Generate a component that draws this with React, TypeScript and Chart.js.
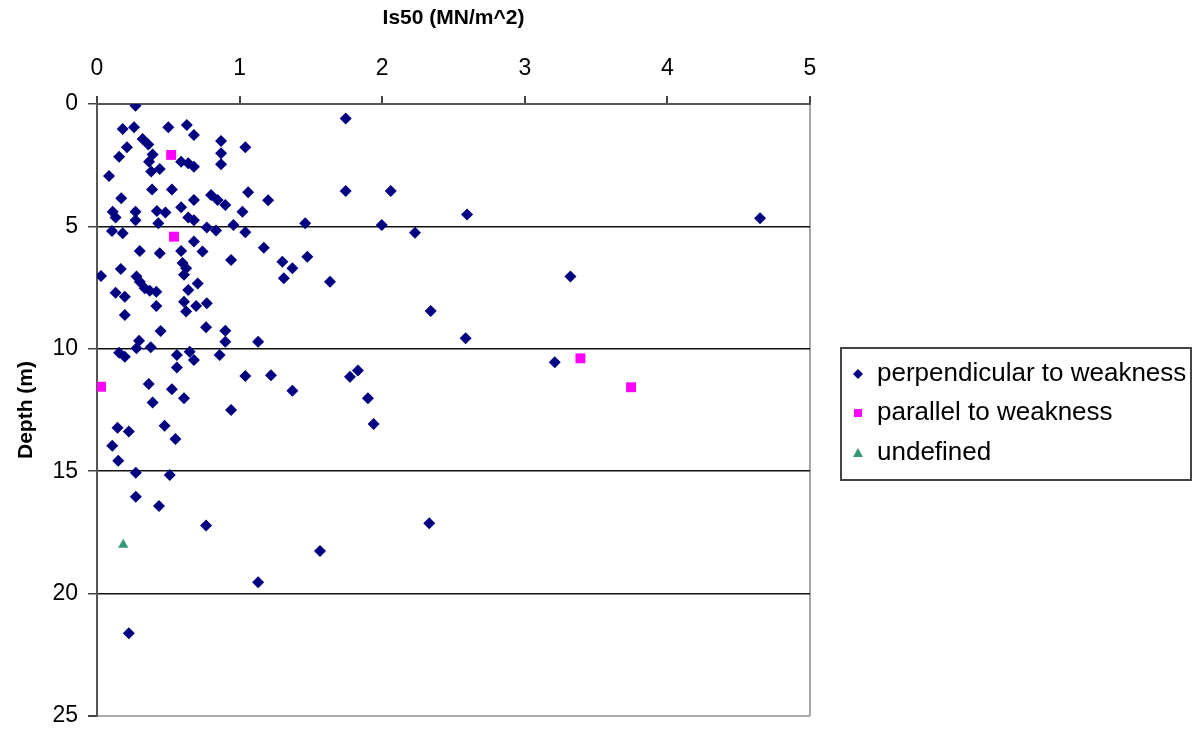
import React, { useEffect, useRef } from 'react';
import { Chart, registerables } from 'chart.js';

Chart.register(...registerables);

const perpIs50 = [
  0.27, 0.18, 0.26, 0.50, 0.63, 0.68, 0.32, 0.36, 0.21, 0.87, 1.04, 0.87, 0.39, 0.155, 0.365, 0.59, 0.64, 0.68, 0.87, 0.44,
  0.38, 0.084, 0.386, 0.525, 0.17, 0.68, 0.80, 0.846, 0.90, 1.06, 1.20, 0.11, 0.13, 0.27, 0.27, 0.42, 0.48, 0.59, 0.43, 0.64,
  0.68, 0.77, 0.835, 0.957, 1.04, 1.02, 0.105, 0.18, 0.68, 0.30, 0.44, 0.59, 0.74, 1.17, 0.60, 0.625, 0.61, 0.94, 1.30, 1.31,
  0.028, 0.167, 0.277, 0.30, 0.335, 0.37, 0.416, 0.706, 0.64, 0.13, 0.195, 0.416, 0.61, 0.625, 0.695, 0.77, 0.195, 0.446, 0.765, 0.90,
  0.90, 1.13, 0.295, 0.277, 0.377, 0.155, 0.195, 0.56, 0.65, 0.68, 0.86, 0.56, 1.04, 1.22, 0.363, 0.525, 0.39, 0.61, 0.94, 0.144,
  0.223, 0.474, 0.55, 0.107, 0.149, 0.272, 0.51, 0.272, 0.435, 0.765, 1.13, 0.223, 1.744, 1.744, 2.06, 2.595, 1.46, 1.997, 2.23, 1.475,
  1.37, 1.634, 2.34, 2.585, 1.37, 1.774, 1.83, 1.90, 1.94, 4.65, 3.32, 3.21, 2.33, 1.564
];
const perpDepth = [
  0.07, 1.02, 0.95, 0.95, 0.86, 1.27, 1.43, 1.65, 1.77, 1.51, 1.77, 2.01, 2.06, 2.15, 2.36, 2.36, 2.42, 2.56, 2.46, 2.66,
  2.76, 2.94, 3.49, 3.49, 3.85, 3.92, 3.72, 3.92, 4.13, 3.61, 3.93, 4.40, 4.64, 4.40, 4.75, 4.37, 4.43, 4.22, 4.87, 4.64,
  4.75, 5.05, 5.17, 4.94, 5.24, 4.40, 5.19, 5.28, 5.62, 6.0, 6.1, 6.0, 6.03, 5.87, 6.5, 6.71, 6.98, 6.37, 6.44, 7.12,
  7.03, 6.74, 7.05, 7.26, 7.53, 7.63, 7.67, 7.33, 7.6, 7.71, 7.87, 8.25, 8.08, 8.48, 8.25, 8.14, 8.62, 9.27, 9.12, 9.26,
  9.71, 9.71, 9.67, 9.98, 9.94, 10.16, 10.32, 10.25, 10.12, 10.46, 10.25, 10.76, 11.11, 11.08, 11.44, 11.65, 12.19, 12.02, 12.5, 13.22,
  13.38, 13.14, 13.68, 13.96, 14.57, 15.06, 15.16, 16.04, 16.42, 17.22, 19.54, 21.62, 0.59, 3.55, 3.55, 4.51, 4.87, 4.94, 5.26, 6.24,
  6.71, 7.26, 8.46, 9.57, 11.71, 11.14, 10.89, 12.02, 13.07, 4.67, 7.05, 10.55, 17.13, 18.26
];

const paraIs50 = [0.52, 0.54, 0.028, 3.39, 3.745];
const paraDepth = [2.08, 5.42, 11.55, 10.39, 11.57];

const undefIs50 = [0.184];
const undefDepth = [18.0];

const seriesNames = ['perpendicular to weakness', 'parallel to weakness', 'undefined'];
const seriesColors = ['#000080', '#FF00FF', '#339977'];

const xTitle = 'Is50 (MN/m^2)';
const yTitle = 'Depth (m)';

const FONT = '"Liberation Sans", Arial, sans-serif';

const toPoints = (xs: number[], ys: number[]) => xs.map((x, i) => ({ x, y: ys[i] }));

const legendPlugin = {
  id: 'boxLegend',
  afterDraw(chart: any) {
    const ctx = chart.ctx as CanvasRenderingContext2D;
    ctx.save();
    ctx.strokeStyle = '#444';
    ctx.lineWidth = 2;
    ctx.strokeRect(841, 348, 350, 132);
    const rows = [374, 413, 453];
    const mx = 858;
    ctx.font = `26px ${FONT}`;
    ctx.textBaseline = 'middle';
    ctx.textAlign = 'left';
    rows.forEach((ry, i) => {
      ctx.fillStyle = seriesColors[i];
      ctx.beginPath();
      if (i === 0) {
        ctx.moveTo(mx - 5, ry);
        ctx.lineTo(mx, ry - 5);
        ctx.lineTo(mx + 5, ry);
        ctx.lineTo(mx, ry + 5);
        ctx.closePath();
      } else if (i === 1) {
        ctx.rect(mx - 4, ry - 4, 8, 8);
      } else {
        ctx.moveTo(mx - 5, ry + 4);
        ctx.lineTo(mx, ry - 5);
        ctx.lineTo(mx + 5, ry + 4);
        ctx.closePath();
      }
      ctx.fill();
      ctx.fillStyle = '#000';
      ctx.fillText(seriesNames[i], 877, ry);
    });
    ctx.restore();
  },
};

export default function App() {
  const canvasRef = useRef<HTMLCanvasElement | null>(null);

  useEffect(() => {
    if (!canvasRef.current) return;
    const chart = new Chart(canvasRef.current, {
      type: 'scatter',
      data: {
        datasets: [
          {
            label: seriesNames[0],
            data: toPoints(perpIs50, perpDepth),
            pointStyle: 'rectRot',
            pointRadius: 6,
            borderWidth: 0,
            backgroundColor: seriesColors[0],
            borderColor: seriesColors[0],
            order: 3,
          },
          {
            label: seriesNames[1],
            data: toPoints(paraIs50, paraDepth),
            pointStyle: 'rect',
            pointRadius: 7,
            borderWidth: 0,
            backgroundColor: seriesColors[1],
            borderColor: seriesColors[1],
            order: 2,
          },
          {
            label: seriesNames[2],
            data: toPoints(undefIs50, undefDepth),
            pointStyle: 'triangle',
            pointRadius: 6,
            borderWidth: 0,
            backgroundColor: seriesColors[2],
            borderColor: seriesColors[2],
            order: 1,
          },
        ],
      },
      options: {
        animation: false,
        responsive: false,
        maintainAspectRatio: false,
        devicePixelRatio: 1,
        layout: { padding: { left: 0, right: 390, top: 0, bottom: 13 } },
        plugins: {
          legend: { display: false },
          tooltip: { enabled: false },
        },
        scales: {
          x: {
            type: 'linear',
            position: 'top',
            min: 0,
            max: 5,
            ticks: {
              stepSize: 1,
              color: '#000',
              font: { family: FONT, size: 23 },
              padding: 14,
              maxRotation: 0,
            },
            grid: {
              color: (c: any) => (c.tick && c.tick.value === 5 ? '#a8a8a8' : 'rgba(0,0,0,0)'),
              lineWidth: 2,
              tickColor: '#444',
              tickLength: 8,
              drawOnChartArea: true,
            },
            border: { color: '#555', width: 2 },
            title: {
              display: true,
              text: xTitle,
              color: '#000',
              font: { family: FONT, size: 21, weight: 'bold' },
              padding: { top: 6, bottom: 0 },
            },
            afterFit: (s: any) => {
              s.height = 104;
              s.paddingLeft = 0;
              s.paddingRight = 0;
            },
          },
          y: {
            type: 'linear',
            reverse: true,
            min: 0,
            max: 25,
            ticks: {
              stepSize: 5,
              color: '#000',
              font: { family: FONT, size: 23 },
              padding: 10,
            },
            grid: {
              color: (c: any) => {
                const v = c.tick ? c.tick.value : -1;
                if (v === 0) return 'rgba(0,0,0,0)';
                if (v === 25) return '#a8a8a8';
                return '#111';
              },
              lineWidth: (c: any) => (c.tick && c.tick.value === 25 ? 2 : 1.5),
              tickColor: '#444',
              tickLength: 9,
            },
            border: { color: '#555', width: 2 },
            title: {
              display: true,
              text: yTitle,
              color: '#000',
              font: { family: FONT, size: 21, weight: 'bold' },
              padding: { top: 14, bottom: 0 },
            },
            afterFit: (s: any) => {
              s.width = 97;
              s.paddingTop = 0;
              s.paddingBottom = 0;
            },
          },
        },
      },
      plugins: [legendPlugin],
    });
    return () => chart.destroy();
  }, []);

  return (
    <div style={{ position: 'absolute', left: 0, top: 0, width: 1200, height: 729, background: '#fff' }}>
      <canvas ref={canvasRef} width={1200} height={729} style={{ display: 'block', width: 1200, height: 729 }} />
    </div>
  );
}
